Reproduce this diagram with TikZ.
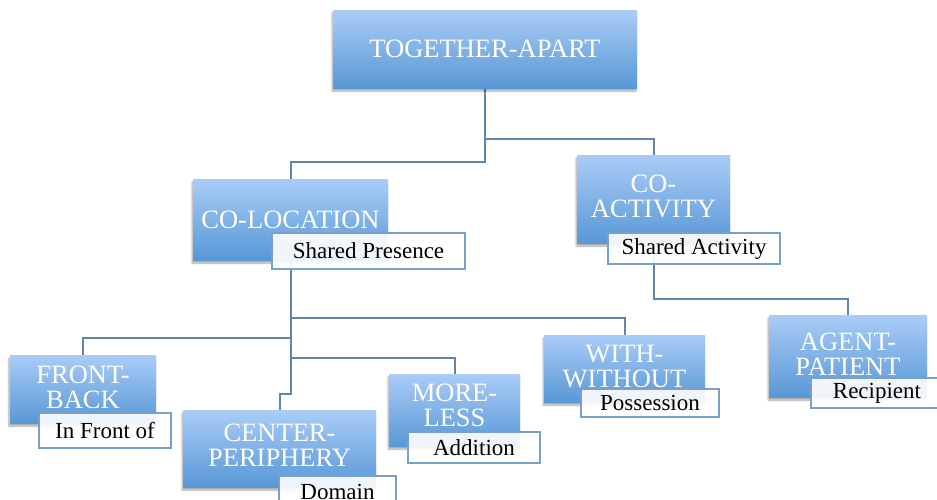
\documentclass[tikz,border=0pt]{standalone}
\usepackage{fontspec}
\setmainfont{Liberation Serif}
\usetikzlibrary{shadows.blur,backgrounds}
\definecolor{boxtop}{RGB}{170,204,247}
\definecolor{boxbot}{RGB}{88,152,214}
\definecolor{edge}{RGB}{96,132,172}
\definecolor{tagline}{RGB}{120,160,205}

\begin{document}
\begin{tikzpicture}[x=1pt,y=-1pt]
\tikzset{B/.style={rectangle,top color=boxtop,bottom color=boxbot,text=white,align=center,inner sep=0pt,font=\fontsize{26.5}{25}\selectfont,blur shadow={shadow xshift=-1pt,shadow yshift=-3pt,shadow blur steps=6,shadow opacity=35}}}
\tikzset{L/.style={rectangle,draw=tagline,line width=1.2pt,fill=white,fill opacity=0.9,text opacity=1,inner sep=0pt,font=\fontsize{23}{23}\selectfont}}
\tikzset{W/.style={draw=edge,line width=2pt}}

  \useasboundingbox (0,0) rectangle (937,499);

  \node[B,minimum width=304pt,minimum height=78pt] (top) at (485,49) {TOGETHER-APART};

  \node[B,minimum width=195pt,minimum height=81pt] (coloc) at (290.5,219.5) {CO-LOCATION};
  \node[L,minimum width=193pt,minimum height=36pt] (presence) at (368.5,251) {Shared Presence};

  \node[B,minimum width=153pt,minimum height=88pt,text depth=6pt] (coact) at (653.5,199) {CO-\\ACTIVITY};
  \node[L,minimum width=172pt,minimum height=31pt] (activity) at (694,248.5) {Shared Activity};

  \node[B,minimum width=158pt,minimum height=82pt,text depth=3pt] (agent) at (848,356) {AGENT-\\PATIENT};
  \node[L,minimum width=132pt,minimum height=30pt] (recipient) at (877,393) {Recipient};

  \node[B,minimum width=146pt,minimum height=68pt,text depth=4pt] (front) at (83,389) {FRONT-\\BACK};
  \node[L,minimum width=132pt,minimum height=35pt] (infront) at (105,430.5) {In Front of};

  \node[B,minimum width=193pt,minimum height=77pt,text depth=6pt] (center) at (279.5,448.5) {CENTER-\\PERIPHERY};
  \node[L,minimum width=117pt,minimum height=32pt] (domain) at (337.5,492) {Domain};

  \node[B,minimum width=131pt,minimum height=72pt,text depth=9pt] (more) at (454.5,410) {MORE-\\LESS};
  \node[L,minimum width=132pt,minimum height=31pt] (addition) at (474,447.5) {Addition};

  \node[B,minimum width=161pt,minimum height=67pt,text depth=5pt] (with) at (624.5,368.5) {WITH-\\WITHOUT};
  \node[L,minimum width=138pt,minimum height=28pt] (possession) at (650,403) {Possession};

  \coordinate (j1) at (485,162);
  \coordinate (j2) at (485,139);
  \coordinate (j3) at (653.5,299);
  \coordinate (k1) at (290.5,318);
  \coordinate (k2) at (290.5,338);
  \coordinate (k3) at (290.5,358);
  \coordinate (k4) at (290.5,394);

  \begin{scope}[on background layer]
  \draw[W] (top.south) -- (j1) -| (coloc.north);
  \draw[W] (j2) -| (coact.north);
  \draw[W] (coact.south) -- (j3) -| (agent.north);
  \draw[W] (coloc.south) -- (k4) -| (center.north);
  \draw[W] (k1) -| (with.north);
  \draw[W] (k2) -| (front.north);
  \draw[W] (k3) -| (more.north);
  \end{scope}
\end{tikzpicture}
\end{document}
